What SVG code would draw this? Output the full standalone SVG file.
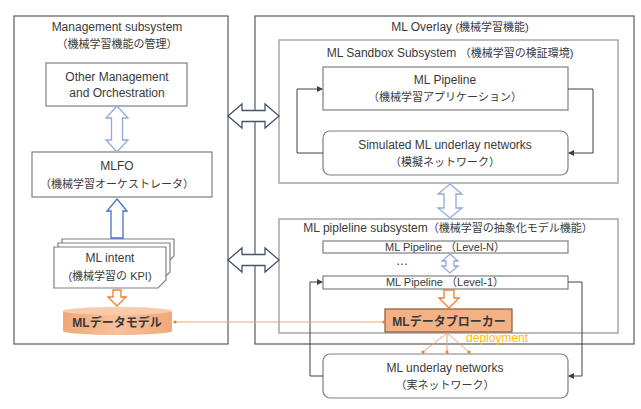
<svg xmlns="http://www.w3.org/2000/svg" width="641" height="409" viewBox="0 0 641 409">
<style>
.t{font-family:"Liberation Sans","Noto Sans CJK JP",sans-serif;font-size:12px;fill:#3a3a3a;text-anchor:middle}
.j{font-size:11px}
.s{font-size:11px}
.outer{fill:#fff;stroke:#5a5a5a;stroke-width:1.2}
.sub{fill:none;stroke:#a6a6a6;stroke-width:1.5}
.box{fill:#fff;stroke:#7f7f7f;stroke-width:1.2}
.lb{fill:#fff;stroke:#8faadc;stroke-width:1.3}
.db{fill:#fff;stroke:#4472c4;stroke-width:1.3}
.hb{fill:#fff;stroke:#44546a;stroke-width:1.3}
.oa{fill:#fff;stroke:#ed7d31;stroke-width:1.3}
.ln{fill:none;stroke:#404040;stroke-width:1}
.or{fill:none;stroke:#f4a070;stroke-width:1}
</style>
<defs>
<marker id="ah" markerWidth="6" markerHeight="6" refX="5" refY="3" orient="auto" markerUnits="userSpaceOnUse">
<path d="M0,0 L6,3 L0,6 z" fill="#404040"/>
</marker>
<linearGradient id="cyl" x1="0" y1="0" x2="1" y2="0">
<stop offset="0" stop-color="#f2a877"/>
<stop offset="0.5" stop-color="#f7c19c"/>
<stop offset="1" stop-color="#f2a877"/>
</linearGradient>
</defs>
<rect width="641" height="409" fill="#fff"/>

<g id="management-subsystem">
<rect class="outer" x="14" y="16" width="214" height="328"/>
<text class="t" x="117" y="31">Management subsystem</text>
<text class="t j" x="117" y="48">（機械学習機能の管理）</text>
</g>

<g id="ml-overlay">
<rect class="outer" x="255" y="16" width="379" height="328"/>
<text class="t" x="460" y="31">ML Overlay <tspan class="j">(機械学習機能)</tspan></text>
</g>

<g id="sandbox-subsystem">
<rect class="sub" x="279" y="40" width="339" height="143"/>
<text class="t" x="450" y="57">ML Sandbox Subsystem <tspan class="j">（機械学習の検証環境)</tspan></text>
</g>

<g id="pipeline-subsystem">
<rect class="sub" x="279" y="219" width="339" height="114"/>
<text class="t" x="448" y="232">ML pipleline subsystem<tspan class="j">（機械学習の抽象化モデル機能）</tspan></text>
</g>

<g id="other-mano">
<rect class="box" x="46" y="63" width="141" height="43"/>
<text class="t" x="117" y="81">Other Management</text>
<text class="t" x="117" y="97">and Orchestration</text>
</g>

<g id="mlfo">
<rect class="box" x="32" y="152" width="180" height="45"/>
<text class="t" x="117" y="170">MLFO</text>
<text class="t j" x="117" y="188">（機械学習オーケストレータ）</text>
</g>

<g id="ml-intent">
<path class="box" d="M62,239 H174 V256 L166,264 H62 Z"/>
<path class="box" d="M58,243 H170 V272 L162,280 H58 Z"/>
<path class="box" d="M54,247 H166 V280 L158,288 H54 Z"/>
<text class="t" x="110" y="262">ML intent</text>
<text class="t j" x="110" y="280">(機械学習の KPI)</text>
</g>

<g id="ml-data-model">
<path d="M63,311 V331 A54.5,4 0 0 0 172,331 V311 Z" fill="url(#cyl)"/>
<ellipse cx="117.5" cy="311" rx="54.5" ry="4" fill="#f8cbad"/>
<text class="t" x="117" y="327" font-weight="bold" fill="#4a3020">MLデータモデル</text>
</g>

<g id="ml-pipeline-sandbox">
<rect class="box" x="323" y="67" width="245" height="43"/>
<text class="t" x="445" y="84">ML Pipeline</text>
<text class="t j" x="445" y="101">（機械学習アプリケーション）</text>
</g>

<g id="simulated-underlay">
<rect class="box" x="323" y="131" width="245" height="44" rx="7"/>
<text class="t" x="445" y="149">Simulated ML underlay networks</text>
<text class="t j" x="445" y="166">（模擬ネットワーク）</text>
</g>

<g id="pipeline-level-n">
<rect class="box" x="323" y="241" width="245" height="12"/>
<text class="t s" x="445" y="251">ML Pipeline （Level-N）</text>
</g>

<g id="ellipsis">
<text class="t" x="402" y="265">…</text>
</g>

<g id="pipeline-level-1">
<rect class="box" x="323" y="276" width="245" height="13"/>
<text class="t s" x="445" y="286">ML Pipeline （Level-1）</text>
</g>

<g id="ml-data-broker">
<rect x="385" y="309" width="127" height="23" fill="#f4b183" stroke="#8a5a3a" stroke-width="1.2"/>
<text class="t" x="449" y="326" font-weight="bold" fill="#3a2a1a">MLデータブローカー</text>
</g>

<g id="underlay-networks">
<rect class="box" x="323" y="354" width="245" height="44" rx="7"/>
<text class="t" x="445" y="372">ML underlay networks</text>
<text class="t j" x="445" y="389">（実ネットワーク）</text>
</g>

<g id="connectors">
<path class="lb" d="M117,106 L128,118 L122.5,118 L122.5,140 L128,140 L117,152 L106,140 L111.5,140 L111.5,118 L106,118 Z"/>
<path class="db" d="M117,199 L127,211 L123,211 L123,238 L111,238 L111,211 L107,211 Z"/>
<path class="oa" d="M117,306 L126,297 L121,297 L121,290 L113,290 L113,297 L108,297 Z"/>
<path class="hb" d="M228,116 L242,104 L242,110.5 L265,110.5 L265,104 L279,116 L265,128 L265,121.5 L242,121.5 L242,128 Z"/>
<path class="hb" d="M228,260 L242,248 L242,254.5 L265,254.5 L265,248 L279,260 L265,272 L265,265.5 L242,265.5 L242,272 Z"/>
<path class="lb" d="M450,184 L462,194 L456,194 L456,208 L462,208 L450,218 L438,208 L444,208 L444,194 L438,194 Z"/>
<path class="lb" d="M450,254 L458,261 L454,261 L454,266 L458,266 L450,273 L442,266 L446,266 L446,261 L442,261 Z"/>
<path class="oa" d="M449,308 L459,298 L454,298 L454,290 L444,290 L444,298 L439,298 Z"/>
<path class="ln" d="M323,153 H297 V89 H322" marker-end="url(#ah)"/>
<path class="ln" d="M568,89 H593 V153 H569" marker-end="url(#ah)"/>
<path class="ln" d="M323,376 H310 V282 H322" marker-end="url(#ah)"/>
<path class="ln" d="M568,282 H582 V376 H569" marker-end="url(#ah)"/>
<line class="or" x1="175" y1="322" x2="384" y2="322"/>
<circle cx="175" cy="322" r="1.6" fill="#ed7d31"/>
<circle cx="384" cy="322" r="1.6" fill="#ed7d31"/>
<line class="or" x1="447" y1="333" x2="423" y2="352"/>
<line class="or" x1="447" y1="333" x2="447" y2="352"/>
<line class="or" x1="447" y1="333" x2="469" y2="352"/>
<circle cx="423" cy="352" r="1.6" fill="#ed7d31"/>
<circle cx="447" cy="352" r="1.6" fill="#ed7d31"/>
<circle cx="469" cy="352" r="1.6" fill="#ed7d31"/>
<text class="t" x="497" y="342" style="fill:#ffc000;font-size:12px">deployment</text>
</g>
</svg>
